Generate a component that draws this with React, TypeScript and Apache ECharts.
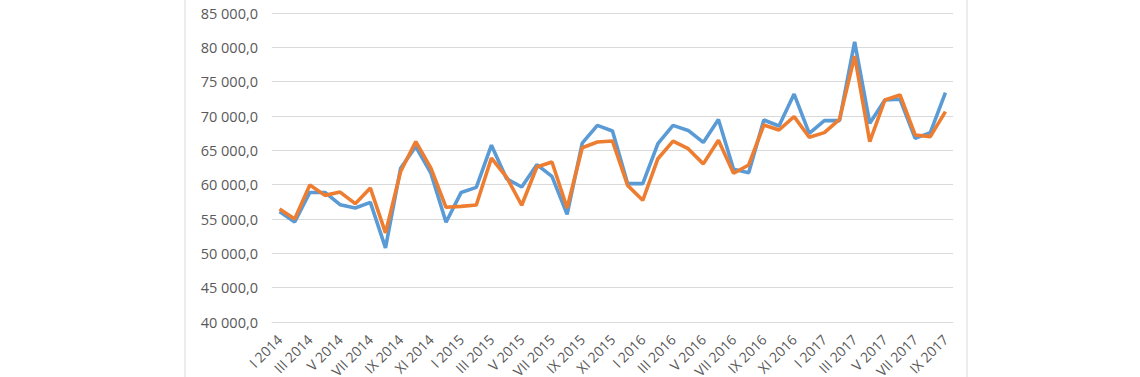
import React, { useEffect, useRef } from "react";
import * as echarts from "echarts";

const months = ["I", "II", "III", "IV", "V", "VI", "VII", "VIII", "IX", "X", "XI", "XII"];
const years = [2014, 2015, 2016, 2017];
const categories: string[] = [];
for (const y of years) {
  for (const m of months) {
    if (y === 2017 && months.indexOf(m) > 8) break;
    categories.push(`${m} ${y}`);
  }
}

const blueSeries = [
  56100, 54560, 58870, 58870, 57080, 56600, 57420, 50790, 62400, 65550, 61680, 54520,
  58870, 59600, 65750, 60870, 59660, 62910, 61210, 55680, 66060, 68630, 67810, 60150,
  60150, 65970, 68630, 67900, 66150, 69480, 62240, 61750, 69420, 68545, 73200, 67480,
  69320, 69320, 80800, 68930, 72330, 72430, 66750, 67580, 73400,
];

const orangeSeries = [
  56450, 55000, 59940, 58440, 58920, 57230, 59500, 52970, 61920, 66280, 62400, 56700,
  56840, 57040, 63880, 61100, 57000, 62570, 63300, 56600, 65380, 66210, 66350, 59900,
  57720, 63780, 66350, 65240, 63030, 66480, 61660, 62870, 68690, 67960, 69900, 66900,
  67580, 69500, 78730, 66260, 72330, 73060, 67240, 67000, 70630,
];

const yMin = 40000;
const yMax = 85000;
const yStep = 5000;

function fmt(v: number): string {
  const s = Math.round(v).toString();
  const withSpaces = s.replace(/\B(?=(\d{3})+(?!\d))/g, " ");
  return withSpaces + ",0";
}

export default function App() {
  const ref = useRef<HTMLDivElement>(null);
  useEffect(() => {
    if (!ref.current) return;
    const chart = echarts.init(ref.current, undefined, { renderer: "svg" });
    chart.setOption({
      animation: false,
      backgroundColor: "#ffffff",
      grid: {
        left: 272,
        right: 187,
        top: 13,
        bottom: 55,
        containLabel: false,
        outerBoundsMode: "none",
      },
      graphic: [
        {
          type: "rect",
          shape: { x: 185, y: -5, width: 782, height: 400 },
          style: { fill: "none", stroke: "#d9d9d9", lineWidth: 1 },
          silent: true,
        },
      ],
      xAxis: {
        type: "category",
        data: categories,
        boundaryGap: true,
        axisLine: { show: true, lineStyle: { color: "#d9d9d9" } },
        axisTick: { show: false },
        axisLabel: {
          interval: 1,
          rotate: 45,
          color: "#595959",
          fontSize: 14,
          fontFamily: "Open Sans",
          margin: 15,
        },
      },
      yAxis: {
        type: "value",
        min: yMin,
        max: yMax,
        interval: yStep,
        axisLine: { show: false },
        axisTick: { show: false },
        splitLine: { lineStyle: { color: "#d9d9d9", width: 1.2 } },
        axisLabel: {
          color: "#595959",
          fontSize: 14.5,
          fontFamily: "Open Sans",
          margin: 14,
          formatter: (v: number) => fmt(v),
        },
      },
      series: [
        {
          type: "line",
          data: blueSeries,
          symbol: "none",
          lineStyle: { color: "#5B9BD5", width: 3.6 },
          itemStyle: { color: "#5B9BD5" },
          z: 2,
        },
        {
          type: "line",
          data: orangeSeries,
          symbol: "none",
          lineStyle: { color: "#ED7D31", width: 3.6 },
          itemStyle: { color: "#ED7D31" },
          z: 3,
        },
      ],
    });
    return () => chart.dispose();
  }, []);
  return (
    <div
      ref={ref}
      style={{ position: "fixed", left: 0, top: 0, width: 1140, height: 377, background: "#fff" }}
    />
  );
}
